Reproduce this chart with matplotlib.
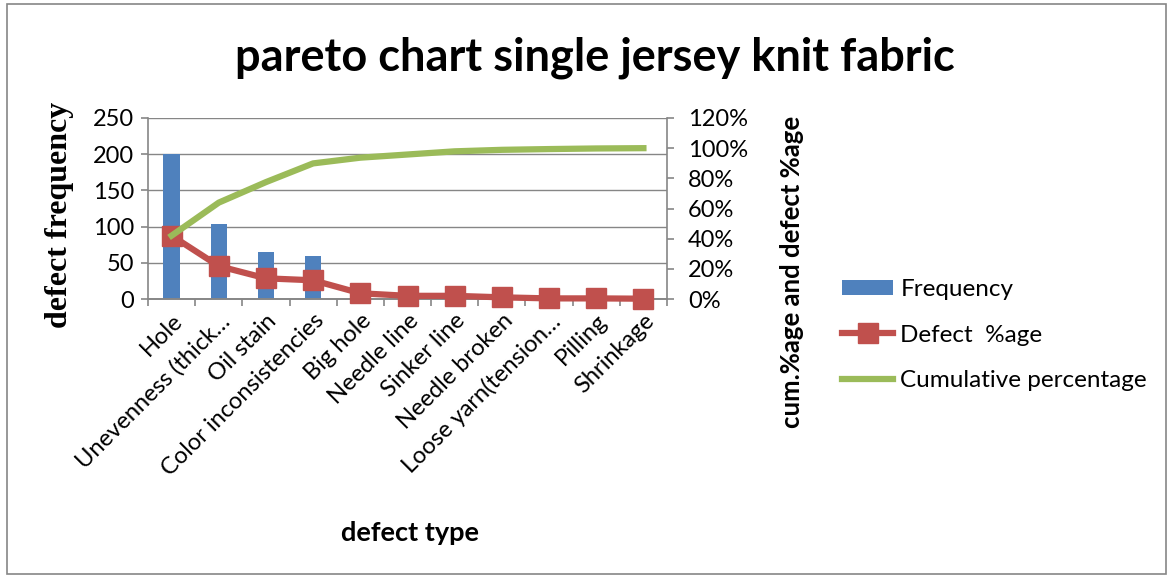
#!/usr/bin/env python3
"""Pareto chart of defects found on single jersey knit fabric."""
import matplotlib
matplotlib.use("Agg")
import matplotlib.pyplot as plt
from matplotlib.lines import Line2D
from matplotlib.patches import Patch, Rectangle
from matplotlib.ticker import FixedLocator, FuncFormatter

defect_types = ["Hole", "Unevenness (thick\u2026", "Oil stain", "Color inconsistencies",
                "Big hole", "Needle line", "Sinker line", "Needle broken",
                "Loose yarn(tension\u2026", "Pilling", "Shrinkage"]
frequency = [200, 104, 65, 59, 18, 10, 10, 5, 2, 2, 1]
defect_pct = [42.0, 21.8, 13.7, 12.4, 3.8, 2.1, 2.1, 1.1, 0.4, 0.4, 0.2]
cum_pct = [42.0, 63.9, 77.5, 89.9, 93.7, 95.8, 97.9, 98.9, 99.4, 99.8, 100.0]

C_BAR = "#4F81BD"
C_DEF = "#C0504D"
C_CUM = "#9BBB59"
C_AX = "#868686"
SANS = ["Lato", "DejaVu Sans"]
W, H = 1173, 578

plt.rcParams.update({"font.family": SANS, "font.size": 16})

fig = plt.figure(figsize=(W / 100, H / 100), dpi=100)
fig.patches.append(Rectangle((0.006, 0.007), 0.988, 0.986, transform=fig.transFigure,
                             fill=False, edgecolor=C_AX, lw=1.2))

ax = fig.add_axes([148 / W, 1 - 299 / H, (667 - 148) / W, (299 - 118) / H])
ax2 = ax.twinx()

x = list(range(len(defect_types)))
ax.bar(x, frequency, width=0.35, color=C_BAR, zorder=2)
ax.set_xlim(-0.5, len(defect_types) - 0.5)
ax.set_ylim(0, 250)
ax.set_yticks([0, 50, 100, 150, 200, 250])
ax.grid(axis="y", color=C_AX, lw=1.0, zorder=0)
ax.set_axisbelow(True)

ax.set_xticks(x)
ax.set_xticklabels(defect_types, rotation=45, ha="right", rotation_mode="anchor",
                   fontsize=17)
ax.xaxis.set_minor_locator(FixedLocator([i - 0.5 for i in range(len(x) + 1)]))
ax.tick_params(axis="x", which="major", length=0, pad=8)
ax.tick_params(axis="x", which="minor", length=5, color=C_AX, width=1.2)
ax.tick_params(axis="y", length=5, color=C_AX, width=1.2, pad=5, labelsize=17)

for a in (ax, ax2):
    for s in a.spines.values():
        s.set_visible(False)
    a.spines["bottom"].set_visible(True)
    a.spines["bottom"].set_color(C_AX)
ax.spines["left"].set_visible(True)
ax.spines["left"].set_color(C_AX)
ax2.spines["right"].set_visible(True)
ax2.spines["right"].set_color(C_AX)
for s in ("left", "right", "bottom"):
    ax.spines[s].set_linewidth(1.2)
    ax2.spines[s].set_linewidth(1.2)

ax2.plot(x, defect_pct, color=C_DEF, lw=4.5, marker="s", ms=15, zorder=3, clip_on=False)
ax2.plot(x, cum_pct, color=C_CUM, lw=4.5, zorder=4, clip_on=False)
ax2.set_ylim(0, 120)
ax2.set_yticks([0, 20, 40, 60, 80, 100, 120])
ax2.yaxis.set_major_formatter(FuncFormatter(lambda v, _: f"{v:.0f}%"))
ax2.tick_params(axis="y", length=5, color=C_AX, width=1.2, pad=10, labelsize=17)

# axis titles
fig.text(60 / W, 1 - 215 / H, "defect frequency", rotation=90, ha="center", va="center",
         family=["Liberation Serif"], fontsize=23, fontweight="bold")
fig.text(792 / W, 1 - 272 / H, "cum.%age and defect %age", rotation=90,
         ha="center", va="center", fontsize=18.5, fontweight="bold")
fig.text(410 / W, 1 - 533 / H, "defect type", ha="center", va="center",
         fontsize=19.5, fontweight="bold")

fig.text(595 / W, 1 - 58 / H, "pareto chart single jersey knit fabric",
         ha="center", va="center", fontsize=32.5, fontweight="bold")

handles = [Patch(facecolor=C_BAR),
           Line2D([], [], color=C_DEF, lw=4.5, marker="s", ms=15),
           Line2D([], [], color=C_CUM, lw=4.5)]
labels = ["Frequency", "Defect  %age", "Cumulative percentage"]
fig.legend(handles, labels, loc="center left", bbox_to_anchor=(842 / W, 1 - 335 / H),
           frameon=False, fontsize=17.5, handlelength=2.1, handleheight=0.6,
           labelspacing=1.0, handletextpad=0.3, borderpad=0, borderaxespad=0)

fig.savefig("out.png", dpi=100)
